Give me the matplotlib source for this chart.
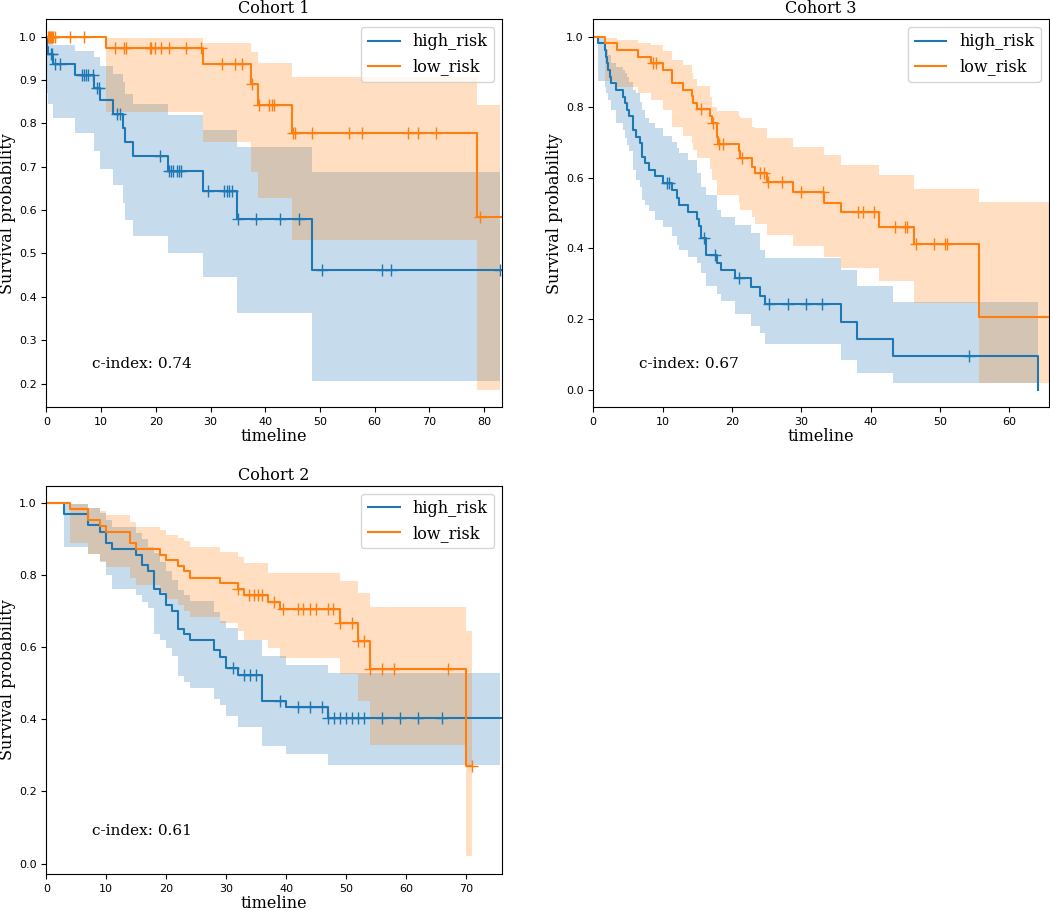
"""
Kaplan-Meier curves (high_risk vs low_risk) for three cohorts,
with 95% CI bands, censor ticks and the c-index of each cohort.
"""

import numpy as np
import matplotlib
matplotlib.use("Agg")
import matplotlib.pyplot as plt
from matplotlib.ticker import MultipleLocator

# ── Config ────────────────────────────────────────────────────
OUT_FILE   = "out.png"
BLUE       = "#1f77b4"
ORANGE     = "#ff7f0e"
SERIF      = "DejaVu Serif"
TEXT_SIZE  = 11.5
TICK_SIZE  = 8
GROUPS     = ["high_risk", "low_risk"]

# ── Cohort 1 ──────────────────────────────────────────────────
C1_HIGH_T    = [0.1, 0.4, 1.3, 5.2, 8.7, 9.9, 12.2, 14.0, 14.3, 15.8, 22.3, 28.7, 34.8, 48.5]
C1_HIGH_S    = [0.977, 0.959, 0.936, 0.911, 0.882, 0.853, 0.822, 0.789, 0.756, 0.724,
                0.690, 0.643, 0.579, 0.463]
C1_HIGH_HI   = [0.997, 0.990, 0.981, 0.967, 0.953, 0.932, 0.913, 0.895, 0.868, 0.844,
                0.820, 0.785, 0.745, 0.689]
C1_HIGH_LO   = [0.870, 0.845, 0.812, 0.779, 0.737, 0.695, 0.657, 0.617, 0.577, 0.540,
                0.502, 0.446, 0.363, 0.206]
C1_HIGH_CENS = [0.8, 1.1, 1.6, 2.5, 6.5, 6.9, 7.3, 7.7, 8.5, 9.2, 9.6, 13.0, 13.5, 20.8,
                22.5, 22.8, 23.1, 23.9, 24.3, 24.7, 29.5, 32.5, 33.0, 33.4, 34.0, 35.0,
                38.4, 42.7, 46.1, 50.3, 61.3, 63.0, 82.9]

C1_LOW_T     = [10.9, 28.7, 37.4, 38.7, 44.8, 78.6]
C1_LOW_S     = [0.973, 0.936, 0.890, 0.843, 0.778, 0.584]
C1_LOW_HI    = [0.996, 0.985, 0.964, 0.940, 0.906, 0.843]
C1_LOW_LO    = [0.826, 0.756, 0.689, 0.627, 0.531, 0.186]
C1_LOW_CENS  = [0.3, 0.5, 0.7, 0.9, 1.1, 1.3, 1.5, 4.3, 6.9, 12.5, 14.2, 14.6, 18.9, 19.2,
                19.9, 20.9, 22.4, 25.6, 28.2, 32.1, 34.5, 35.7, 37.6, 38.9, 40.7, 41.2,
                41.6, 45.0, 45.5, 48.5, 55.3, 57.7, 66.0, 67.9, 71.2, 79.2]

# ── Cohort 3 ──────────────────────────────────────────────────
C3_HIGH_T    = [0.7, 1.7, 1.8, 2.0, 2.2, 2.4, 2.5, 3.3, 4.3, 4.6, 4.9, 5.2, 5.7, 5.8, 6.1,
                6.7, 7.0, 7.4, 8.1, 8.9, 10.0, 11.3, 12.1, 12.4, 13.6, 14.9, 15.2, 15.5,
                16.3, 17.8, 18.4, 20.4, 22.8, 24.1, 24.8, 35.7, 38.1, 43.2, 64.2]
C3_HIGH_S    = [0.981, 0.962, 0.943, 0.925, 0.906, 0.887, 0.868, 0.849, 0.830, 0.811,
                0.792, 0.774, 0.755, 0.736, 0.717, 0.698, 0.660, 0.642, 0.623, 0.604,
                0.585, 0.565, 0.544, 0.524, 0.504, 0.484, 0.464, 0.429, 0.382, 0.358,
                0.340, 0.316, 0.291, 0.264, 0.243, 0.193, 0.144, 0.096, 0.0]
C3_HIGH_CI_T = [0.7, 1.7, 1.9, 2.2, 2.5, 3.3, 4.3, 4.6, 4.9, 5.2, 5.7, 5.8, 6.1, 6.7, 7.0,
                7.4, 8.1, 8.9, 10.0, 11.3, 12.1, 12.4, 13.6, 14.9, 15.5, 16.3, 17.8, 18.4,
                20.4, 22.8, 24.1, 24.8, 35.7, 38.1, 43.2]
C3_HIGH_HI   = [0.995, 0.976, 0.962, 0.948, 0.925, 0.915, 0.906, 0.896, 0.887, 0.872,
                0.858, 0.849, 0.840, 0.815, 0.792, 0.769, 0.755, 0.740, 0.720, 0.703,
                0.685, 0.670, 0.651, 0.613, 0.575, 0.552, 0.509, 0.490, 0.467, 0.443,
                0.396, 0.372, 0.338, 0.294, 0.247]
C3_HIGH_LO   = [0.873, 0.858, 0.840, 0.821, 0.792, 0.755, 0.736, 0.712, 0.693, 0.675,
                0.656, 0.623, 0.594, 0.575, 0.538, 0.524, 0.505, 0.481, 0.462, 0.434,
                0.410, 0.396, 0.377, 0.358, 0.330, 0.295, 0.272, 0.250, 0.215, 0.180,
                0.160, 0.130, 0.083, 0.047, 0.019]
C3_HIGH_CENS = [10.6, 10.9, 16.0, 17.5, 21.1, 25.3, 28.1, 30.7, 33.0, 54.2]

C3_LOW_T     = [1.7, 3.4, 6.5, 8.4, 10.0, 11.4, 13.0, 14.2, 14.4, 14.9, 16.9, 17.1, 17.8,
                18.0, 21.0, 21.2, 22.9, 23.3, 25.0, 28.8, 33.3, 35.8, 41.2, 46.3, 55.6]
C3_LOW_S     = [0.981, 0.962, 0.943, 0.925, 0.906, 0.870, 0.850, 0.832, 0.813, 0.794,
                0.774, 0.755, 0.717, 0.695, 0.675, 0.656, 0.632, 0.613, 0.587, 0.559,
                0.530, 0.502, 0.462, 0.412, 0.206]
C3_LOW_CI_T  = [1.7, 3.4, 6.5, 8.4, 10.0, 11.4, 13.0, 14.2, 14.4, 14.9, 16.9, 17.1, 17.8,
                21.0, 21.2, 22.9, 23.3, 25.0, 28.8, 33.3, 35.8, 41.2, 46.3, 55.6]
C3_LOW_HI    = [0.995, 0.991, 0.983, 0.975, 0.960, 0.934, 0.920, 0.896, 0.879, 0.860,
                0.830, 0.802, 0.790, 0.774, 0.770, 0.745, 0.740, 0.712, 0.687, 0.665,
                0.637, 0.608, 0.568, 0.533]
C3_LOW_LO    = [0.873, 0.857, 0.840, 0.821, 0.792, 0.745, 0.719, 0.700, 0.680, 0.655,
                0.625, 0.594, 0.552, 0.530, 0.509, 0.490, 0.470, 0.439, 0.408, 0.377,
                0.344, 0.308, 0.245, 0.019]
C3_LOW_CENS  = [8.6, 9.0, 15.6, 17.3, 18.2, 18.7, 21.4, 24.0, 24.6, 25.2, 27.3, 30.0, 33.1,
                38.2, 38.9, 40.5, 43.6, 45.0, 45.2, 46.5, 49.2, 50.8, 51.1]

# ── Cohort 2 ──────────────────────────────────────────────────
C2_HIGH_T    = [3, 7, 9, 10, 11, 15, 16, 17, 18, 19, 20, 21, 22, 23, 24, 28, 29, 30, 32,
                36, 40, 47]
C2_HIGH_S    = [0.970, 0.940, 0.921, 0.889, 0.873, 0.857, 0.829, 0.811, 0.763, 0.748,
                0.718, 0.700, 0.651, 0.637, 0.621, 0.592, 0.573, 0.543, 0.522, 0.452,
                0.435, 0.403]
C2_HIGH_HI   = [0.998, 0.986, 0.972, 0.955, 0.935, 0.917, 0.900, 0.880, 0.861, 0.838,
                0.811, 0.788, 0.760, 0.746, 0.728, 0.698, 0.672, 0.654, 0.621, 0.575,
                0.552, 0.529]
C2_HIGH_LO   = [0.880, 0.860, 0.838, 0.800, 0.762, 0.745, 0.725, 0.709, 0.638, 0.620,
                0.597, 0.575, 0.520, 0.504, 0.488, 0.457, 0.439, 0.409, 0.379, 0.326,
                0.305, 0.273]
C2_HIGH_CENS = [31.2, 33.0, 34.0, 35.0, 39.0, 42.0, 44.0, 46.0, 47.0, 48.0, 49.0, 50.0,
                51.0, 52.0, 53.0, 56.0, 59.0, 62.0, 66.0]

C2_LOW_T     = [4, 7, 9, 10, 14, 15, 19, 20, 22, 23, 24, 29, 32, 33, 37, 39, 49, 52, 54, 70]
C2_LOW_S     = [0.984, 0.954, 0.938, 0.921, 0.891, 0.873, 0.857, 0.843, 0.827, 0.813,
                0.794, 0.778, 0.762, 0.746, 0.727, 0.706, 0.669, 0.619, 0.541, 0.271]
C2_LOW_HI    = [0.997, 0.986, 0.978, 0.968, 0.949, 0.935, 0.926, 0.912, 0.903, 0.895,
                0.880, 0.866, 0.850, 0.834, 0.806, 0.806, 0.783, 0.751, 0.711, 0.646]
C2_LOW_LO    = [0.890, 0.860, 0.840, 0.822, 0.793, 0.772, 0.755, 0.735, 0.718, 0.700,
                0.685, 0.668, 0.645, 0.621, 0.598, 0.571, 0.525, 0.450, 0.329, 0.020]
C2_LOW_CENS  = [32.0, 33.8, 34.6, 35.3, 36.0, 38.0, 39.5, 42.0, 42.8, 43.9, 44.9, 47.0,
                47.8, 49.0, 51.0, 52.0, 53.0, 54.0, 56.0, 58.0, 67.0, 71.0]

# ── Per-cohort summary ────────────────────────────────────────
COHORTS    = ["Cohort 1", "Cohort 3", "Cohort 2"]
C_INDEX    = [0.74, 0.67, 0.61]
X_MAX      = [83.2, 65.7, 75.9]          # end of follow-up shown on the x axis
LINE_END   = [(83.2, 83.2), (64.2, 65.7), (75.9, 71.0)]   # (high, low)
BAND_END   = [(82.9, 82.9), (64.2, 65.7), (75.6, 71.0)]
Y_STEP     = [0.1, 0.2, 0.2]

CURVES = [
    [(C1_HIGH_T, C1_HIGH_S, C1_HIGH_T, C1_HIGH_LO, C1_HIGH_HI, C1_HIGH_CENS),
     (C1_LOW_T, C1_LOW_S, C1_LOW_T, C1_LOW_LO, C1_LOW_HI, C1_LOW_CENS)],
    [(C3_HIGH_T, C3_HIGH_S, C3_HIGH_CI_T, C3_HIGH_LO, C3_HIGH_HI, C3_HIGH_CENS),
     (C3_LOW_T, C3_LOW_S, C3_LOW_CI_T, C3_LOW_LO, C3_LOW_HI, C3_LOW_CENS)],
    [(C2_HIGH_T, C2_HIGH_S, C2_HIGH_T, C2_HIGH_LO, C2_HIGH_HI, C2_HIGH_CENS),
     (C2_LOW_T, C2_LOW_S, C2_LOW_T, C2_LOW_LO, C2_LOW_HI, C2_LOW_CENS)],
]

# axes boxes in figure fractions (left, bottom, width, height)
AX_BOXES = [
    [0.0441, 0.5524, 0.4337, 0.4267],
    [0.5650, 0.5524, 0.4337, 0.4267],
    [0.0441, 0.0396, 0.4337, 0.4267],
]


def km_curve(ax, t, s, ci_t, lo, hi, cens, line_end, band_end, color, label):
    """Step survival curve + CI band + censor ticks."""
    x = np.concatenate([[0.0], t, [line_end]])
    y = np.concatenate([[1.0], s, [s[-1]]])
    ax.plot(x, y, drawstyle="steps-post", color=color, lw=1.5, label=label)

    bx = np.concatenate([[0.0], ci_t, [band_end]])
    blo = np.concatenate([[1.0], lo, [lo[-1]]])
    bhi = np.concatenate([[1.0], hi, [hi[-1]]])
    ax.fill_between(bx, blo, bhi, step="post", color=color, alpha=0.25, lw=0)

    # censored subjects sit on the curve value at their time
    s_full = np.concatenate([[1.0], s])
    idx = np.searchsorted(t, cens, side="right")
    ax.plot(cens, s_full[idx], ls="none", marker="+", ms=9, mew=1, color=color)


# ── Plot ──────────────────────────────────────────────────────
fig = plt.figure(figsize=(10.5, 9.1), dpi=100)

for k, name in enumerate(COHORTS):
    ax = fig.add_axes(AX_BOXES[k])
    for g, (color, label) in enumerate(zip([BLUE, ORANGE], GROUPS)):
        t, s, ci_t, lo, hi, cens = CURVES[k][g]
        km_curve(ax, np.array(t, float), np.array(s), np.array(ci_t, float),
                 np.array(lo), np.array(hi), np.array(cens),
                 LINE_END[k][g], BAND_END[k][g], color, label)

    ax.set_xlim(0, X_MAX[k])
    ax.xaxis.set_major_locator(MultipleLocator(10))
    ax.yaxis.set_major_locator(MultipleLocator(Y_STEP[k]))
    ax.tick_params(labelsize=TICK_SIZE)

    ax.set_title(name, fontfamily=SERIF, fontsize=TEXT_SIZE, pad=4)
    ax.set_xlabel("timeline", fontfamily=SERIF, fontsize=TEXT_SIZE, labelpad=1)
    ax.set_ylabel("Survival probability", fontfamily=SERIF, fontsize=TEXT_SIZE, labelpad=2)
    ax.legend(loc="upper right", prop={"family": SERIF, "size": TEXT_SIZE})
    ax.text(0.1, 0.1, f"c-index: {C_INDEX[k]:.2f}", transform=ax.transAxes,
            fontfamily=SERIF, fontsize=11)

fig.savefig(OUT_FILE, dpi=100)
